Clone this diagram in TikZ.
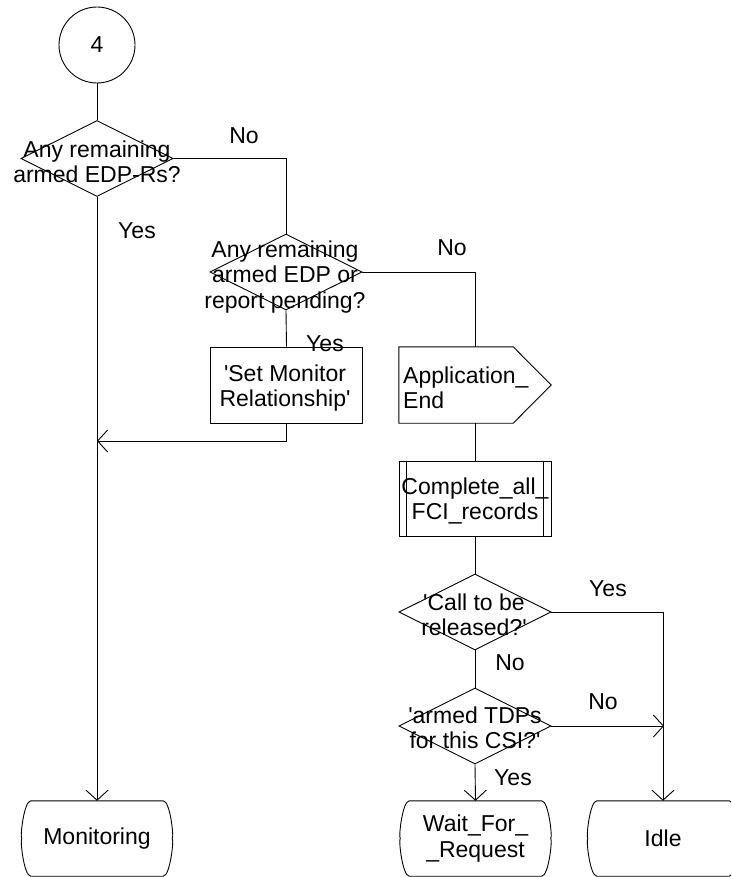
\documentclass[tikz,border=0pt]{standalone}
\usepackage{fontspec}
\setmainfont{Liberation Sans}
\usetikzlibrary{shapes.geometric,arrows.meta}
\tikzset{
  ln/.style={line width=0.9pt},
  arr/.style={ln,-{Straight Barb[length=10pt,width=22pt,line width=0.9pt]}},
  txt/.style={font=\fontsize{23}{25.5}\selectfont, align=center, inner sep=0pt},
  dia/.style={diamond, draw, ln, minimum width=152pt, minimum height=76pt, inner sep=0pt},
  box/.style={rectangle, draw, ln, minimum width=152pt, minimum height=76pt, inner sep=0pt},
  ghost/.style={rectangle, minimum width=152pt, minimum height=76pt, inner sep=0pt},
  stbox/.style={rectangle, minimum width=150pt, minimum height=75pt, inner sep=0pt, font=\fontsize{23}{25.5}\selectfont, align=center},
}
\newcommand\stateoutline[1]{%
  \draw[ln] ([xshift=9pt]#1.north west) -- ([xshift=-9pt]#1.north east)
    .. controls ([xshift=-2pt]#1.north east) and ([xshift=2pt]#1.east) .. (#1.east)
    .. controls ([xshift=2pt]#1.east) and ([xshift=-2pt]#1.south east) .. ([xshift=-9pt]#1.south east)
    -- ([xshift=9pt]#1.south west)
    .. controls ([xshift=2pt]#1.south west) and ([xshift=-2pt]#1.west) .. (#1.west)
    .. controls ([xshift=-2pt]#1.west) and ([xshift=2pt]#1.north west) .. cycle;}
\newcommand\sq{\textquotesingle}
\begin{document}
\begin{tikzpicture}[x=1pt,y=-1pt]
\clip (0,0) rectangle (731,877);
\fill[white] (0,0) rectangle (731,877);

% start connector
\node[circle, draw, ln, minimum size=76pt, inner sep=0pt, font=\fontsize{23}{25.5}\selectfont] (c4) at (97,45) {4};

% decisions
\node[dia] (d1) at (97,158.5) {};
\node[txt] (d1t) at (97,162) {Any remaining\\armed EDP-Rs?};
\node[dia] (d2) at (286,272) {};
\node[txt] (d2t) at (285,277) {Any remaining\\armed EDP or\\report pending?};
\node[dia] (d3) at (475,612) {};
\node[txt] (d3t) at (474,615) {\sq Call to be\\released?\sq};
\node[dia] (d4) at (475,726) {};
\node[txt] (d4t) at (475,728) {\sq armed TDPs\\for this CSI?\sq};

% task
\node[box] (smr) at (286.5,385) {};
\node[txt] (smrt) at (285,388) {\sq Set Monitor\\Relationship\sq};

% output signal
\node[ghost] (ae) at (475,385) {};
\draw[ln] (ae.north west) -- ([xshift=-38pt]ae.north east) -- (ae.east) -- ([xshift=-38pt]ae.south east) -- (ae.south west) -- cycle;
\node[txt, anchor=west, align=left] (aet) at (403,388) {Application\_\\End};

% procedure call
\node[box, minimum height=75pt] (cfr) at (475,498.5) {};
\draw[ln] ([xshift=8pt]cfr.north west) -- ([xshift=8pt]cfr.south west);
\draw[ln] ([xshift=-8pt]cfr.north east) -- ([xshift=-8pt]cfr.south east);
\node[txt] (cfrt) at (475,501) {Complete\_all\_\\FCI\_records};

% states
\node[stbox] (mon) at (97,838.5) {Monitoring};
\stateoutline{mon}
\node[stbox] (wfr) at (475.5,838.5) {Wait\_For\_\\\_Request};
\stateoutline{wfr}
\node[stbox] (idle) at (663,838.5) {Idle};
\stateoutline{idle}

% merge points
\coordinate (m1) at (97,441);
\coordinate (m2) at (664,726);

% connectors
\draw[ln] (c4.south) -- (d1.north);
\draw[ln] (d1.east) -| (d2.north);
\draw[arr] (d1.south) -- (mon.north);
\draw[ln] (d2.east) -| (ae.north);
\draw[ln] (d2.south) -- (smr.north);
\draw[arr] (smr.south) |- (m1);
\draw[ln] (ae.south) -- (cfr.north);
\draw[ln] (cfr.south) -- (d3.north);
\draw[arr] (d3.east) -| (idle.north);
\draw[ln] (d3.south) -- (d4.north);
\draw[arr] (d4.east) -- (m2);
\draw[arr] (d4.south) -- (wfr.north);

% labels
\node[txt] (l1) at (244,136) {No};
\node[txt] (l2) at (137,231) {Yes};
\node[txt] (l3) at (452,248) {No};
\node[txt] (l4) at (325,344) {Yes};
\node[txt] (l5) at (608,589) {Yes};
\node[txt] (l6) at (510,663) {No};
\node[txt] (l7) at (603,702) {No};
\node[txt] (l8) at (513,778) {Yes};
\end{tikzpicture}
\end{document}
